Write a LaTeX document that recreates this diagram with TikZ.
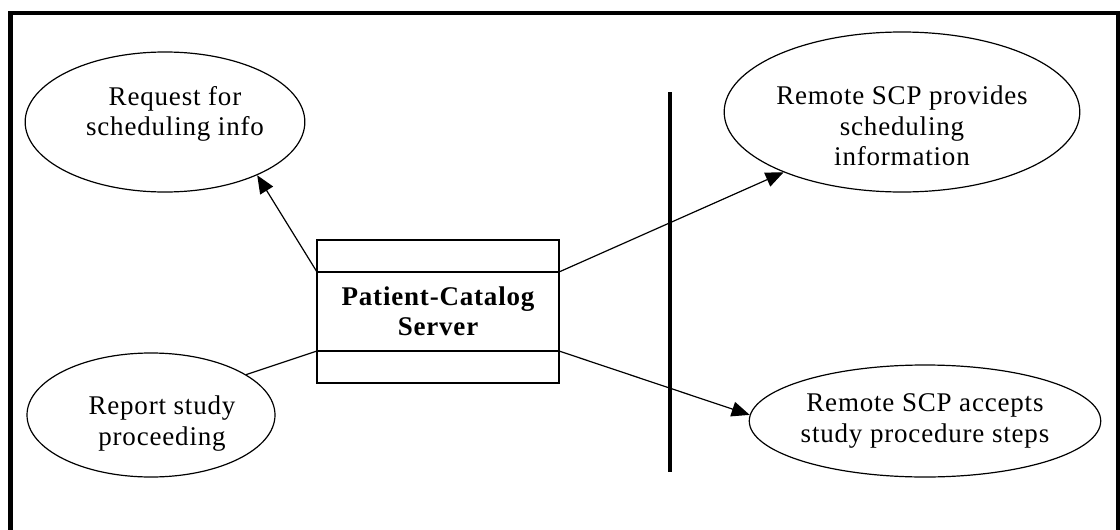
\documentclass[tikz,border=0pt]{standalone}
\usepackage{fontspec}
\setmainfont[LetterSpace=3]{Liberation Serif}
\usetikzlibrary{shapes.geometric,arrows.meta}
\newcommand{\labelfont}{\fontsize{27}{30.5}\selectfont}
\tikzset{
  usecase/.style={ellipse,draw,line width=1.2pt,inner sep=0pt,align=center},
  server/.style={rectangle,draw,line width=1.2pt,inner sep=0pt,align=center,font=\labelfont\bfseries},
  link/.style={line width=1.2pt},
  flow/.style={line width=1.2pt,-{Triangle[length=18pt,width=15pt]}}
}
\begin{document}
\begin{tikzpicture}[x=1pt,y=-1pt,font=\labelfont]
  \useasboundingbox (0,0) rectangle (1120,530);
  \begin{scope}
    \clip (0,0) rectangle (1120,530);
    \draw[line width=4.5pt] (10.5,13) rectangle (1118,560);
  \end{scope}

  \path (438,311.5) node[server,minimum width=242pt,minimum height=143pt] (srv) {Patient-Catalog\\Server};
  \path (165,122) node[usecase,minimum width=264pt,minimum height=140pt,text depth=22pt] (req) {\hspace*{20pt}Request for\\\hspace*{20pt}scheduling info};
  \path (151,415) node[usecase,minimum width=248pt,minimum height=124pt,text height=66pt] (rep) {\hspace*{22pt}Report study\\\hspace*{22pt}proceeding};
  \path (902,112) node[usecase,minimum width=332pt,minimum height=160pt,text height=108pt] (prov) {Remote SCP provides\\scheduling\\information};
  \path (925,421) node[usecase,minimum width=318pt,minimum height=112pt] (acc) {Remote SCP accepts\\study procedure steps};

  % compartments of the server box
  \coordinate (cul) at (317,272);
  \coordinate (cur) at (559,272);
  \coordinate (cll) at (317,351);
  \coordinate (clr) at (559,351);
  \draw[link] (cul) -- (cur);
  \draw[link] (cll) -- (clr);

  % system boundary
  \coordinate (bt) at (670,92);
  \coordinate (bb) at (670,472);
  \draw[line width=4.5pt] (bt) -- (bb);

  \draw[flow] (cul) -- (req.-30);
  \draw[link] (cll) -- (rep.23);
  \draw[flow] (cur) -- (prov.207);
  \draw[flow] (clr) -- (acc.178);
\end{tikzpicture}
\end{document}
